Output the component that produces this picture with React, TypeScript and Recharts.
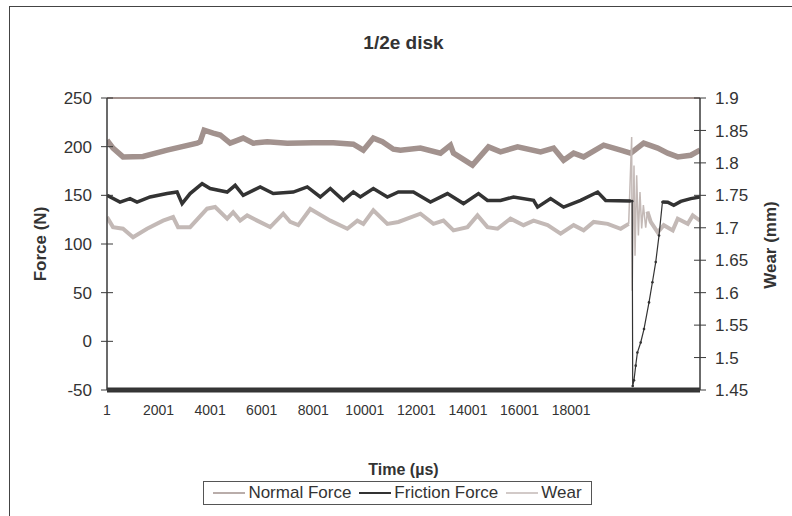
import React from 'react';
import { LineChart, Line, XAxis, YAxis, ReferenceLine } from 'recharts';

// ---------- data ----------
const xTicks = [1, 2001, 4001, 6001, 8001, 10001, 12001, 14001, 16001, 18001];
const forceTicks = [-50, 0, 50, 100, 150, 200, 250];
const wearTicks = [1.45, 1.5, 1.55, 1.6, 1.65, 1.7, 1.75, 1.8, 1.85, 1.9];
const timeDomain = [1, 23000];
const plotBounds = [250, -50];

const normalTime = [1, 234, 622, 1399, 2331, 3496, 3613, 3768, 4118, 4390, 4778, 5283, 5671, 6215, 6992, 8001, 8778, 9555, 9943, 10331, 10681, 11108, 11380, 12157, 12934, 13322, 13439, 14176, 14797, 15263, 15924, 16817, 17322, 17710, 18099, 18487, 19264, 19924, 20312, 20816, 21360, 21749, 22137, 22642, 23000];
const normalForce = [206.7, 198.5, 189.5, 190, 196.4, 203.6, 205, 217, 214, 212, 203.6, 208.8, 203.6, 205, 203.6, 204, 204, 202.6, 196.4, 208.8, 205, 197.4, 196.4, 198.5, 193.3, 201.5, 193.3, 181, 199.8, 194.7, 199.8, 194.7, 198.5, 186, 193.3, 189.5, 201.5, 196.4, 193.3, 203.6, 198.5, 193.3, 189.5, 191.2, 196.4];

const frictionTime = [1, 506, 894, 1166, 1671, 2331, 2719, 2914, 3224, 3690, 4001, 4661, 4972, 5283, 5943, 6448, 7225, 7769, 8273, 8662, 9167, 9555, 9827, 10331, 10875, 11302, 11884, 12545, 13205, 13827, 14409, 14758, 15263, 15768, 16545, 16700, 17205, 17710, 18370, 19031, 19342, 20312];
const frictionForce = [150, 143.1, 146.6, 143, 148.3, 151.8, 153.4, 141.5, 151.8, 162, 157, 153.4, 160.3, 150, 158.6, 151.8, 153.4, 158.6, 148.3, 157, 144.8, 153.4, 148.3, 157, 148.3, 153.4, 153.4, 143.1, 151.8, 141.5, 151.8, 144.8, 144.8, 148.3, 144.8, 137.9, 146.6, 137.9, 144.8, 153.4, 144.8, 144.2];
const frictionDropTime = [20312, 20370, 20390, 20440, 20506, 20572, 20700, 20828, 21022, 21154, 21283, 21411, 21543];
const frictionDropForce = [144.2, 144, -45.9, -40, -25, -11.5, -1.2, 12.6, 40, 60.7, 81.4, 108.8, 143.1];
const frictionEndTime = [21543, 21749, 21982, 22254, 22642, 23000];
const frictionEndForce = [143.1, 143, 139.7, 143.8, 146.6, 148.3];

const wearTime = [1, 234, 622, 1011, 1554, 2176, 2564, 2758, 3224, 3884, 4195, 4661, 4894, 5166, 5438, 5826, 6331, 6836, 7108, 7419, 7885, 8662, 9322, 9710, 9943, 10331, 10875, 11302, 12157, 12661, 13050, 13439, 13982, 14370, 14758, 15147, 15651, 16156, 16545, 17089, 17594, 18099, 18487, 18875, 19419, 19924, 20234];
const wearValue = [1.7165, 1.701, 1.6985, 1.6855, 1.6985, 1.711, 1.7165, 1.701, 1.701, 1.7294, 1.732, 1.714, 1.724, 1.711, 1.719, 1.711, 1.701, 1.7217, 1.709, 1.704, 1.729, 1.711, 1.6985, 1.711, 1.706, 1.7268, 1.706, 1.709, 1.7217, 1.706, 1.711, 1.696, 1.701, 1.719, 1.701, 1.6985, 1.714, 1.704, 1.711, 1.704, 1.691, 1.704, 1.696, 1.709, 1.706, 1.6985, 1.706];
const wearSpikeTime = [20234, 20350, 20370, 20440, 20480, 20544, 20610, 20672, 20738, 20804, 20894, 20960];
const wearSpikeValue = [1.706, 1.84, 1.603, 1.796, 1.657, 1.781, 1.688, 1.755, 1.699, 1.735, 1.7, 1.725];
const wearEndTime = [20960, 21089, 21360, 21593, 21943, 22137, 22526, 22720, 23000];
const wearEndValue = [1.725, 1.709, 1.693, 1.704, 1.696, 1.714, 1.706, 1.719, 1.711];

const legendItems = ['Normal Force', 'Friction Force', 'Wear'];

// ---------- styling ----------
const FONT = '"Liberation Sans", Arial, Helvetica, sans-serif';
const TXT = '#333333';
const AXIS = '#3a3a3a';
const C_NORMAL = '#a2928e';
const C_FRICTION = '#333333';
const C_WEAR = '#c3b9b6';

const W = 792;
const H = 516;
const MARGIN = { top: 98, right: 32, bottom: 96, left: 47 };
const YW = 60;
const XH = 30;
const PL = MARGIN.left + YW;
const PR = W - MARGIN.right - YW;
const PB = H - MARGIN.bottom - XH;

const zip = (ts: number[], vs: number[]) => ts.map((t, i) => ({ t, v: vs[i] }));

const LeftTick = (p: any) => (
  <g>
    <line x1={PL - 6} x2={PL + 6} y1={p.y} y2={p.y} stroke={AXIS} strokeWidth={1} />
    <text x={PL - 15} y={p.y} dy="0.36em" textAnchor="end" fontSize={17} fill={TXT} fontFamily={FONT}>
      {p.payload.value}
    </text>
  </g>
);

const RightTick = (p: any) => (
  <g>
    <line x1={PR - 6} x2={PR + 6} y1={p.y} y2={p.y} stroke={AXIS} strokeWidth={1} />
    <text x={PR + 15} y={p.y} dy="0.36em" textAnchor="start" fontSize={17} fill={TXT} fontFamily={FONT}>
      {String(p.payload.value)}
    </text>
  </g>
);

const BottomTick = (p: any) => (
  <text x={p.x} y={PB + 25} textAnchor="middle" fontSize={14} fill={TXT} fontFamily={FONT}>
    {p.payload.value}
  </text>
);

const swatchColors = [C_NORMAL, C_FRICTION, C_WEAR];

export default function App() {
  return (
    <div style={{ position: 'fixed', left: 0, top: 0, width: W, height: H, background: '#fff', overflow: 'hidden', fontFamily: FONT }}>
      <div style={{ position: 'absolute', left: 9, top: 6, width: 900, height: 600, border: '1.5px solid #444' }} />
      <div style={{ position: 'absolute', left: 0, top: 0 }}>
        <LineChart width={W} height={H} margin={MARGIN}>
          <XAxis
            xAxisId="x"
            type="number"
            dataKey="t"
            domain={timeDomain}
            ticks={xTicks}
            allowDataOverflow
            height={XH}
            axisLine={{ stroke: AXIS }}
            tickLine={false}
            tick={<BottomTick />}
            interval={0}
          />
          <YAxis
            yAxisId="left"
            orientation="left"
            domain={[-50, 250]}
            ticks={forceTicks}
            allowDataOverflow
            width={YW}
            axisLine={{ stroke: AXIS, strokeWidth: 1.5 }}
            tickLine={false}
            tick={<LeftTick />}
            interval={0}
          />
          <YAxis
            yAxisId="right"
            orientation="right"
            domain={[1.45, 1.9]}
            ticks={wearTicks}
            allowDataOverflow
            width={YW}
            axisLine={{ stroke: AXIS, strokeWidth: 1.5 }}
            tickLine={false}
            tick={<RightTick />}
            interval={0}
          />
          <ReferenceLine xAxisId="x" yAxisId="left" y={plotBounds[0]} stroke={C_NORMAL} strokeWidth={2} />
          <Line xAxisId="x" yAxisId="left" data={zip(normalTime, normalForce)} dataKey="v" type="linear" stroke={C_NORMAL} strokeWidth={5.5} dot={false} isAnimationActive={false} />
          <Line xAxisId="x" yAxisId="right" data={zip(wearTime, wearValue)} dataKey="v" type="linear" stroke={C_WEAR} strokeWidth={4} dot={false} isAnimationActive={false} />
          <Line xAxisId="x" yAxisId="right" data={zip(wearSpikeTime, wearSpikeValue)} dataKey="v" type="linear" stroke={C_WEAR} strokeWidth={1.5} dot={false} isAnimationActive={false} />
          <Line xAxisId="x" yAxisId="right" data={zip(wearEndTime, wearEndValue)} dataKey="v" type="linear" stroke={C_WEAR} strokeWidth={4} dot={false} isAnimationActive={false} />
          <Line xAxisId="x" yAxisId="left" data={zip(frictionTime, frictionForce)} dataKey="v" type="linear" stroke={C_FRICTION} strokeWidth={3.5} dot={false} isAnimationActive={false} />
          <Line xAxisId="x" yAxisId="left" data={zip(frictionDropTime, frictionDropForce)} dataKey="v" type="linear" stroke={C_FRICTION} strokeWidth={1.2} dot={{ r: 1.3, fill: C_FRICTION, stroke: 'none' }} isAnimationActive={false} />
          <Line xAxisId="x" yAxisId="left" data={zip(frictionEndTime, frictionEndForce)} dataKey="v" type="linear" stroke={C_FRICTION} strokeWidth={3.5} dot={false} isAnimationActive={false} />
          <ReferenceLine xAxisId="x" yAxisId="left" y={plotBounds[1]} stroke="#333" strokeWidth={5} />
        </LineChart>
      </div>
      {/* title */}
      <div style={{ position: 'absolute', left: PL, width: PR - PL, top: 31, textAlign: 'center', fontSize: 19, fontWeight: 'bold', color: TXT, lineHeight: '24px' }}>
        1/2e disk
      </div>
      {/* axis titles */}
      <div style={{ position: 'absolute', left: PL, width: PR - PL, top: 460, textAlign: 'center', fontSize: 16, fontWeight: 'bold', color: TXT, lineHeight: '20px' }}>
        Time (µs)
      </div>
      <div style={{ position: 'absolute', left: 41 - 100, top: 244 - 10, width: 200, textAlign: 'center', fontSize: 17, fontWeight: 'bold', color: TXT, lineHeight: '20px', transform: 'rotate(-90deg)' }}>
        Force (N)
      </div>
      <div style={{ position: 'absolute', left: 771 - 100, top: 245 - 10, width: 200, textAlign: 'center', fontSize: 17, fontWeight: 'bold', color: TXT, lineHeight: '20px', transform: 'rotate(-90deg)' }}>
        Wear (mm)
      </div>
      {/* legend */}
      <div style={{ position: 'absolute', left: 203, top: 481, width: 389, height: 24, border: '1px solid #555', display: 'flex', alignItems: 'center', justifyContent: 'center', boxSizing: 'border-box', background: '#fff' }}>
        {legendItems.map((name, i) => (
          <div key={name} style={{ display: 'flex', alignItems: 'center', marginRight: i < legendItems.length - 1 ? 8 : 0 }}>
            <svg width={32} height={10} style={{ marginRight: 3 }}>
              <line x1={0} x2={32} y1={5} y2={5} stroke={swatchColors[i]} strokeWidth={i === 1 ? 2 : 1.5} />
            </svg>
            <span style={{ fontSize: 17, color: TXT, whiteSpace: 'nowrap' }}>{name}</span>
          </div>
        ))}
      </div>
    </div>
  );
}
